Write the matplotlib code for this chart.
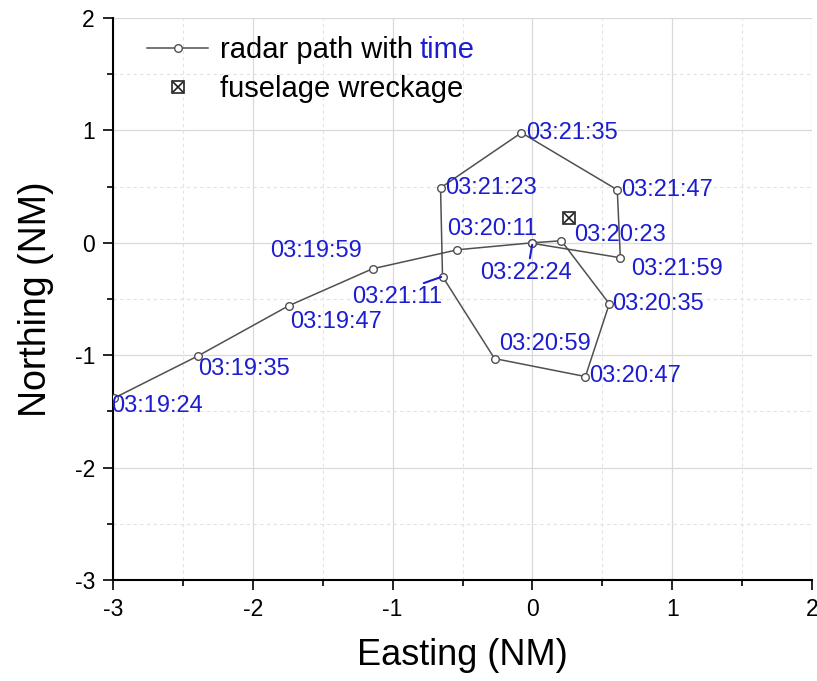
import matplotlib
matplotlib.use('Agg')
import matplotlib.pyplot as plt
from matplotlib.ticker import MultipleLocator

plt.rcParams['font.family'] = ['Liberation Sans', 'DejaVu Sans']
plt.rcParams['axes.unicode_minus'] = False

# radar track (NM), in time order
east = [-2.99, -2.39, -1.743, -1.143, -0.536, 0.0, 0.207, 0.55, 0.379, -0.271,
        -0.643, -0.657, -0.079, 0.607, 0.629, 0.0]
north = [-1.38, -1.005, -0.56, -0.231, -0.062, 0.0, 0.018, -0.543, -1.19, -1.03,
         -0.30, 0.489, 0.979, 0.471, -0.133, -0.005]
times = ['03:19:24', '03:19:35', '03:19:47', '03:19:59', None, '03:20:11', '03:20:23',
         '03:20:35', '03:20:47', '03:20:59', '03:21:11', '03:21:23', '03:21:35',
         '03:21:47', '03:21:59', '03:22:24']

wreck_east = [0.264]
wreck_north = [0.222]

# label placement: (dx, dy) offset in points, ha, leader
label_layout = [((-2, -6), 'left', False), ((0, -9.4), 'left', False),
                ((0.7, -11.5), 'left', False), ((-8, 13), 'right', False), None,
                ((3.6, 10), 'right', False), ((9.4, 4.3), 'left', False),
                ((2.2, 0), 'left', False), ((3, 0.7), 'left', False),
                ((3.6, 10.8), 'left', False), ((0, -15), 'right', True),
                ((3.6, 0), 'left', False), ((3.6, 0), 'left', False),
                ((2.9, 0), 'left', False), ((7.9, -7.9), 'left', False),
                ((-4.3, -21.6), 'center', True)]

BLUE = '#1c1cd0'
GRAY = '#505050'

fig = plt.figure(figsize=(8.17, 6.81), dpi=100)
ax = fig.add_axes([0.1383, 0.1483, 0.8556, 0.8253])

path, = ax.plot(east, north, '-', color=GRAY, lw=1.1, marker='o', ms=5.5,
                mfc='white', mec=GRAY, mew=1.0, zorder=3)
sq, = ax.plot(wreck_east, wreck_north, 's', ms=8.5, mfc='none', mec='#222222', mew=1.2, zorder=4)
cx, = ax.plot(wreck_east, wreck_north, 'x', ms=7.5, mec='#222222', mew=1.2, zorder=4)

for x, y, t, lay in zip(east, north, times, label_layout):
    if t is None:
        continue
    (dx, dy), ha, leader = lay
    kw = {}
    if leader:
        rx = 0.69 if ha == 'right' else 0.53
        kw['arrowprops'] = dict(arrowstyle='-', color=BLUE, lw=1.5, shrinkA=1, shrinkB=1,
                                relpos=(rx, 1.0))
    ax.annotate(t, xy=(x, y), xytext=(dx, dy), textcoords='offset points',
                ha=ha, va='center', fontsize=17, color=BLUE, zorder=5, **kw)

ax.set_xlim(-3, 2)
ax.set_ylim(-3, 2)
ax.xaxis.set_major_locator(MultipleLocator(1))
ax.yaxis.set_major_locator(MultipleLocator(1))
ax.xaxis.set_minor_locator(MultipleLocator(0.5))
ax.yaxis.set_minor_locator(MultipleLocator(0.5))
ax.grid(which='major', color='#d9d9d9', lw=0.9, ls='-', zorder=0)
ax.grid(which='minor', color='#e2e2e2', lw=0.8, ls=(0, (3, 3)), zorder=0)
ax.set_axisbelow(True)

for s in ['top', 'right']:
    ax.spines[s].set_visible(False)
for s in ['left', 'bottom']:
    ax.spines[s].set_linewidth(1.5)
ax.tick_params(which='major', direction='out', length=7, width=1.2, pad=6, labelsize=16.5)
ax.tick_params(which='minor', direction='out', length=4, width=1.2)

ax.set_xlabel('Easting (NM)', fontsize=26, labelpad=12)
ax.set_ylabel('Northing (NM)', fontsize=27, labelpad=15)

leg = ax.legend([path, (sq, cx)], ['radar path with', 'fuselage wreckage'],
                loc='upper left', bbox_to_anchor=(0.0486, 0.968), frameon=False,
                fontsize=21, borderpad=0, borderaxespad=0, handlelength=2.1,
                handletextpad=0.42, labelspacing=0.38)
leg.set_zorder(8)
fig.canvas.draw()
bb = leg.get_texts()[0].get_window_extent()
fig.text(bb.x1 + 6, bb.y0, 'time', transform=None, ha='left', va='bottom',
         fontsize=21, color=BLUE)

fig.savefig('out.png', dpi=100)
